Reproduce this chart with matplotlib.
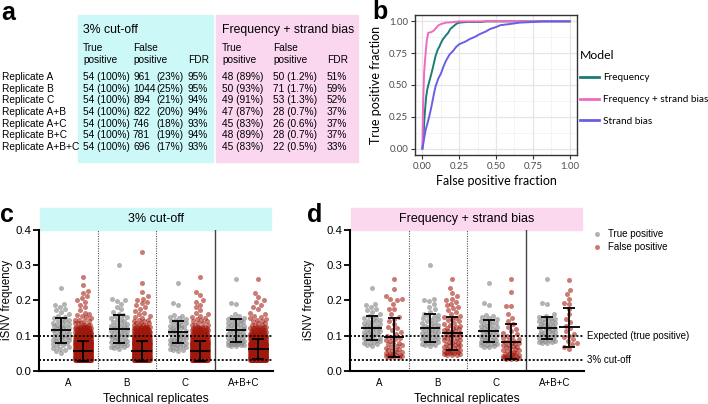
import numpy as np
import matplotlib
matplotlib.use("Agg")
import matplotlib.pyplot as plt
from matplotlib.patches import Rectangle
from matplotlib.lines import Line2D
from matplotlib.transforms import blended_transform_factory

plt.rcParams['font.family'] = ['Liberation Sans', 'DejaVu Sans']

# ---------------- panel a: table ----------------
rep_names = ['Replicate A', 'Replicate B', 'Replicate C', 'Replicate A+B',
             'Replicate A+C', 'Replicate B+C', 'Replicate A+B+C']
cut_tp = [54, 54, 54, 54, 54, 54, 54]
cut_tp_pct = [100, 100, 100, 100, 100, 100, 100]
cut_fp = [961, 1044, 894, 822, 746, 781, 696]
cut_fp_pct = [23, 25, 21, 20, 18, 19, 17]
cut_fdr = [95, 95, 94, 94, 93, 94, 93]
sb_tp = [48, 50, 49, 47, 45, 48, 45]
sb_tp_pct = [89, 93, 91, 87, 83, 89, 83]
sb_fp = [50, 71, 53, 28, 26, 28, 22]
sb_fp_pct = ['1.2', '1.7', '1.3', '0.7', '0.6', '0.7', '0.5']
sb_fdr = [51, 59, 52, 37, 37, 37, 33]

# ---------------- panel b: ROC curves ----------------
freq_fpr = [0, 0.005, 0.01, 0.012, 0.018, 0.025, 0.034, 0.045, 0.057, 0.07, 0.08, 0.09,
            0.105, 0.115, 0.126, 0.14, 0.16, 0.175, 0.19, 0.21, 0.23, 0.25, 0.30, 0.40, 0.43, 1.0]
freq_tpr = [0, 0.06, 0.14, 0.20, 0.30, 0.40, 0.47, 0.52, 0.57, 0.63, 0.68, 0.73,
            0.78, 0.80, 0.83, 0.86, 0.89, 0.91, 0.94, 0.96, 0.98, 0.99, 0.995, 0.995, 1.0, 1.0]
fsb_fpr = [0, 0.005, 0.012, 0.02, 0.03, 0.04, 0.06, 0.08, 0.095, 0.11, 0.13, 0.16, 0.2, 0.25, 1.0]
fsb_tpr = [0, 0.35, 0.60, 0.72, 0.85, 0.91, 0.915, 0.93, 0.95, 0.97, 0.98, 0.99, 0.993, 1.0, 1.0]
sb_fpr = [0, 0.008, 0.015, 0.023, 0.035, 0.046, 0.058, 0.07, 0.08, 0.09, 0.108, 0.126, 0.145,
          0.16, 0.185, 0.21, 0.23, 0.25, 0.29, 0.32, 0.36, 0.39, 0.43, 0.46, 0.5, 0.53, 0.6,
          0.66, 0.75, 0.82, 1.0]
sb_tpr = [0, 0.05, 0.10, 0.15, 0.20, 0.25, 0.31, 0.38, 0.44, 0.49, 0.55, 0.59, 0.65,
          0.69, 0.74, 0.77, 0.80, 0.82, 0.84, 0.86, 0.88, 0.90, 0.92, 0.94, 0.955, 0.97, 0.98,
          0.99, 0.995, 1.0, 1.0]
model_names = ['Frequency', 'Frequency + strand bias', 'Strand bias']
model_colors = ['#1b7d74', '#f06ac4', '#6a5ee6']

# ---------------- panels c/d: iSNV frequencies ----------------
groups = ['A', 'B', 'C', 'A+B+C']

tp_A = [0.235, 0.190, 0.188, 0.180, 0.176, 0.173, 0.168, 0.160, 0.155, 0.152,
        0.150, 0.147, 0.145, 0.142, 0.140, 0.137, 0.135, 0.133, 0.130, 0.128,
        0.126, 0.124, 0.122, 0.120, 0.118, 0.116, 0.114, 0.112, 0.110, 0.108,
        0.106, 0.104, 0.102, 0.100, 0.098, 0.096, 0.094, 0.092, 0.090, 0.088,
        0.086, 0.084, 0.082, 0.080, 0.078, 0.076, 0.073, 0.070, 0.068,
        0.065, 0.062, 0.060, 0.055, 0.050]
tp_B = [0.300, 0.205, 0.200, 0.197, 0.190, 0.182, 0.175, 0.168, 0.162, 0.158,
        0.155, 0.152, 0.150, 0.147, 0.144, 0.141, 0.138, 0.135, 0.132, 0.130,
        0.128, 0.126, 0.124, 0.122, 0.120, 0.118, 0.116, 0.114, 0.112, 0.110,
        0.108, 0.106, 0.104, 0.102, 0.100, 0.098, 0.096, 0.094, 0.092, 0.090,
        0.088, 0.086, 0.084, 0.082, 0.080, 0.078, 0.076, 0.074, 0.072, 0.070,
        0.068, 0.066, 0.064, 0.062]
tp_C = [0.248, 0.192, 0.188, 0.158, 0.155, 0.152, 0.150, 0.148, 0.145, 0.142,
        0.140, 0.137, 0.135, 0.132, 0.130, 0.128, 0.126, 0.124, 0.122, 0.120,
        0.118, 0.116, 0.114, 0.112, 0.110, 0.108, 0.106, 0.104, 0.102, 0.100,
        0.098, 0.096, 0.094, 0.092, 0.090, 0.088, 0.087, 0.086, 0.084, 0.082,
        0.080, 0.078, 0.077, 0.076, 0.074, 0.072, 0.070, 0.068, 0.066, 0.064,
        0.062, 0.060, 0.058, 0.056]
tp_ABC = [0.262, 0.193, 0.190, 0.160, 0.156, 0.153, 0.150, 0.148, 0.146, 0.144,
          0.142, 0.140, 0.138, 0.136, 0.134, 0.132, 0.130, 0.128, 0.126, 0.124,
          0.122, 0.120, 0.118, 0.116, 0.114, 0.112, 0.110, 0.108, 0.106, 0.104,
          0.102, 0.100, 0.098, 0.096, 0.094, 0.092, 0.090, 0.088, 0.086, 0.085,
          0.084, 0.083, 0.082, 0.080, 0.079, 0.078, 0.077, 0.076, 0.075, 0.074,
          0.073, 0.072, 0.071, 0.070]
tp_kept_d = [48, 50, 49, 45]   # true positives remaining after strand-bias model

# 3% cut-off false positives: dense part as value levels with counts, plus sparse tail
fp_levels = [0.030, 0.035, 0.040, 0.045, 0.050, 0.055, 0.060, 0.065, 0.070, 0.075,
             0.080, 0.085, 0.090, 0.095, 0.100, 0.105, 0.110, 0.115, 0.120, 0.125,
             0.130, 0.135, 0.140, 0.145]
fp_counts_A = [92, 95, 93, 88, 82, 74, 66, 58, 51, 45, 39, 34, 30, 26, 22, 18, 14, 11, 8, 5, 4, 3, 2, 2]
fp_counts_B = [99, 103, 101, 95, 89, 81, 73, 64, 56, 49, 43, 37, 32, 28, 23, 19, 15, 11, 8, 5, 4, 3, 2, 2]
fp_counts_C = [85, 89, 87, 82, 76, 69, 61, 54, 47, 41, 35, 30, 26, 22, 18, 14, 11, 8, 6, 4, 3, 2, 2, 1]
fp_counts_ABC = [60, 66, 68, 66, 62, 56, 50, 45, 39, 34, 30, 26, 22, 18, 15, 12, 9, 7, 5, 4, 3, 2, 2, 1]
fp_tail_A = [0.265, 0.245, 0.228, 0.222, 0.212, 0.207, 0.200, 0.195, 0.188, 0.180,
             0.172, 0.165, 0.160, 0.158, 0.155, 0.152, 0.150]
fp_tail_B = [0.337, 0.250, 0.225, 0.212, 0.205, 0.200, 0.196, 0.192, 0.186, 0.180,
             0.175, 0.170, 0.165, 0.160, 0.156, 0.153, 0.150]
fp_tail_C = [0.265, 0.225, 0.215, 0.200, 0.195, 0.188, 0.180, 0.172, 0.165, 0.160,
             0.156, 0.153, 0.150, 0.148]
fp_tail_ABC = [0.260, 0.222, 0.210, 0.200, 0.195, 0.188, 0.180, 0.175, 0.165, 0.160,
               0.156, 0.153, 0.150, 0.148]

# frequency + strand bias false positives
fpd_A = [0.262, 0.233, 0.212, 0.205, 0.203, 0.200, 0.190, 0.176, 0.176, 0.160,
         0.152, 0.148, 0.140, 0.132, 0.125, 0.120, 0.115, 0.110, 0.105, 0.100,
         0.097, 0.094, 0.090, 0.087, 0.084, 0.080, 0.078, 0.075, 0.072, 0.070,
         0.068, 0.065, 0.062, 0.060, 0.058, 0.056, 0.054, 0.052, 0.050, 0.048,
         0.047, 0.046, 0.045, 0.044, 0.043, 0.042, 0.041, 0.040, 0.039, 0.038]
fpd_B = [0.262, 0.235, 0.222, 0.212, 0.205, 0.200, 0.196, 0.190, 0.186, 0.182,
         0.178, 0.172, 0.166, 0.160, 0.156, 0.152, 0.149, 0.146, 0.143, 0.140,
         0.137, 0.134, 0.131, 0.128, 0.125, 0.122, 0.120, 0.118, 0.116, 0.114,
         0.112, 0.110, 0.108, 0.106, 0.104, 0.102, 0.100, 0.098, 0.096, 0.094,
         0.092, 0.090, 0.088, 0.086, 0.084, 0.082, 0.080, 0.078, 0.076, 0.074,
         0.072, 0.070, 0.068, 0.066, 0.064, 0.062, 0.060, 0.058, 0.056, 0.055,
         0.054, 0.053, 0.052, 0.051, 0.050, 0.049, 0.048, 0.047, 0.046, 0.045, 0.044]
fpd_C = [0.262, 0.224, 0.185, 0.183, 0.160, 0.150, 0.140, 0.132, 0.125, 0.118,
         0.112, 0.108, 0.104, 0.100, 0.097, 0.094, 0.091, 0.088, 0.085, 0.082,
         0.080, 0.078, 0.076, 0.074, 0.072, 0.070, 0.068, 0.066, 0.064, 0.062,
         0.060, 0.058, 0.056, 0.054, 0.052, 0.050, 0.048, 0.047, 0.046, 0.045,
         0.044, 0.043, 0.042, 0.041, 0.040, 0.039, 0.038, 0.037, 0.036, 0.035,
         0.034, 0.033, 0.032]
fpd_ABC = [0.257, 0.229, 0.218, 0.205, 0.193, 0.190, 0.175, 0.160, 0.148, 0.138,
           0.128, 0.120, 0.112, 0.105, 0.100, 0.095, 0.090, 0.085, 0.080, 0.075,
           0.068, 0.062]

# mean +/- SD
c_tp_mean = [0.115, 0.119, 0.110, 0.115]
c_tp_sd = [0.035, 0.039, 0.032, 0.033]
c_fp_mean = [0.056, 0.056, 0.056, 0.061]
c_fp_sd = [0.028, 0.028, 0.028, 0.028]
d_tp_mean = [0.121, 0.122, 0.113, 0.121]
d_tp_sd = [0.0335, 0.040, 0.031, 0.032]
d_fp_mean = [0.095, 0.1065, 0.0825, 0.1235]
d_fp_sd = [0.056, 0.0475, 0.0495, 0.0555]

W, H = 708, 404
fig = plt.figure(figsize=(7.08, 4.04), dpi=100)


def fx(px):
    return px / W


def fy(py):
    return 1 - py / H


# ================= panel a =================
cyan = '#cdf8f8'
pink = '#fbd6ef'
fig.patches.append(Rectangle((fx(78), fy(162)), (213 - 78) / W, (162 - 15) / H,
                             transform=fig.transFigure, color=cyan, zorder=0))
fig.patches.append(Rectangle((fx(216), fy(162)), (358 - 216) / W, (162 - 15) / H,
                             transform=fig.transFigure, color=pink, zorder=0))
fig.text(fx(1), fy(1), 'a', fontsize=18, fontweight='bold', va='top', ha='left')

ts = 7.3
fig.text(fx(83), fy(30), '3% cut-off', fontsize=8.8, va='center')
fig.text(fx(222), fy(30), 'Frequency + strand bias', fontsize=8.8, va='center')
for x0, x1, x2 in [(83, 133, 188), (222, 273, 327)]:
    fig.text(fx(x0), fy(48), 'True', fontsize=ts, va='center')
    fig.text(fx(x0), fy(60), 'positive', fontsize=ts, va='center')
    fig.text(fx(x1), fy(48), 'False', fontsize=ts, va='center')
    fig.text(fx(x1), fy(60), 'positive', fontsize=ts, va='center')
    fig.text(fx(x2), fy(60), 'FDR', fontsize=ts, va='center')

for i, name in enumerate(rep_names):
    y = fy(77 + i * 11.67)
    fig.text(fx(2), y, name, fontsize=ts, va='center')
    fig.text(fx(83), y, f'{cut_tp[i]} ({cut_tp_pct[i]}%)', fontsize=ts, va='center')
    fig.text(fx(133), y, f'{cut_fp[i]}', fontsize=ts, va='center')
    fig.text(fx(156), y, f'({cut_fp_pct[i]}%)', fontsize=ts, va='center')
    fig.text(fx(188), y, f'{cut_fdr[i]}%', fontsize=ts, va='center')
    fig.text(fx(222), y, f'{sb_tp[i]} ({sb_tp_pct[i]}%)', fontsize=ts, va='center')
    fig.text(fx(273), y, f'{sb_fp[i]} ({sb_fp_pct[i]}%)', fontsize=ts, va='center')
    fig.text(fx(327), y, f'{sb_fdr[i]}%', fontsize=ts, va='center')

# ================= panel b =================
lato = ['Lato', 'DejaVu Sans']
axb = fig.add_axes([fx(415), fy(155), 162 / W, 140 / H])
lines = []
for fpr, tpr, col, nm in zip([freq_fpr, fsb_fpr, sb_fpr], [freq_tpr, fsb_tpr, sb_tpr],
                             model_colors, model_names):
    ln, = axb.plot(fpr, tpr, color=col, lw=1.4, label=nm, zorder=3)
    lines.append(ln)
axb.set_xlim(-0.05, 1.05)
axb.set_ylim(-0.05, 1.05)
ticks = [0, 0.25, 0.5, 0.75, 1.0]
tlabels = ['0.00', '0.25', '0.50', '0.75', '1.00']
axb.set_xticks(ticks)
axb.set_xticklabels(tlabels)
axb.set_yticks(ticks)
axb.set_yticklabels(tlabels)
axb.set_xticks([0.125, 0.375, 0.625, 0.875], minor=True)
axb.set_yticks([0.125, 0.375, 0.625, 0.875], minor=True)
axb.grid(True, which='major', color='#e6e6e6', lw=0.9)
axb.grid(True, which='minor', color='#f0f0f0', lw=0.5)
axb.set_axisbelow(True)
axb.tick_params(which='major', length=3, width=0.8, color='#333333', labelsize=7,
                labelcolor='#4d4d4d', pad=2)
axb.tick_params(which='minor', length=0)
for s in axb.spines.values():
    s.set_color('#333333')
    s.set_linewidth(1.0)
axb.set_xlabel('False positive fraction', fontsize=9, labelpad=3, family=lato)
axb.set_ylabel('True positive fraction', fontsize=9, labelpad=5, family=lato)
for lab in axb.get_xticklabels() + axb.get_yticklabels():
    lab.set_family(lato)
legb = axb.legend(handles=lines, title='Model', loc='upper left',
                  bbox_to_anchor=(fx(580), fy(50)), bbox_transform=fig.transFigure,
                  frameon=False, title_fontsize=8.8, handlelength=1.9,
                  handletextpad=0.4, labelspacing=1.25, borderpad=0, borderaxespad=0,
                  alignment='left', prop={'family': lato, 'size': 7.2})
legb.get_title().set_family(lato)
for h in legb.legend_handles:
    h.set_linewidth(2.0)
fig.text(fx(372), fy(0), 'b', fontsize=18, fontweight='bold', va='top', ha='left')

# ================= panels c, d =================
gray_col = '#8a8a8a'
red_col = '#a0170b'
tp_off, fp_off = 0.37, 0.75
msize = 13


def swarm(vals, y_ppu, x_ppu, diam=5.0, half_w=8.0):
    vals = np.asarray(vals, dtype=float)
    order = np.argsort(vals, kind='stable')
    ys = vals[order] * y_ppu
    n = len(ys)
    xs = np.zeros(n)
    cands = np.arange(-half_w, half_w + 1e-9, 0.5)
    cands = cands[np.argsort(np.abs(cands), kind='stable')]
    lo = 0
    for i in range(n):
        while ys[i] - ys[lo] >= diam:
            lo += 1
        if lo == i:
            xs[i] = 0.0
            continue
        dy = ys[i] - ys[lo:i]
        dx = cands[:, None] - xs[lo:i][None, :]
        dist = np.sqrt(dx ** 2 + dy[None, :] ** 2).min(axis=1)
        ok = np.nonzero(dist >= diam - 1e-9)[0]
        xs[i] = cands[ok[0]] if ok.size else cands[np.argmax(dist)]
    out = np.empty(n)
    out[order] = xs
    return out / x_ppu


def panel(left_px, right_px, tp_sets, fp_sets, tpm, tps, fpm, fps, banner, bcol,
          letter, letter_px, ylab_px):
    ax = fig.add_axes([fx(left_px), fy(370.7), (right_px - left_px) / W, 140.7 / H])
    ax.set_xlim(0, 4)
    ax.set_ylim(0, 0.4)
    x_ppu = (right_px - left_px) / 4.0
    y_ppu = 140.7 / 0.4
    for i in range(4):
        tv = np.asarray(tp_sets[i])
        fv = np.asarray(fp_sets[i])
        ax.scatter(i + tp_off + swarm(tv, y_ppu, x_ppu), tv, s=msize, color=gray_col,
                   alpha=0.65, linewidths=0, zorder=2)
        ax.scatter(i + fp_off + swarm(fv, y_ppu, x_ppu), fv, s=msize, color=red_col,
                   alpha=0.57, linewidths=0, zorder=2)
        for xc, m, sd in [(i + tp_off, tpm[i], tps[i]), (i + fp_off, fpm[i], fps[i])]:
            ax.errorbar(xc, m, yerr=sd, fmt='none', ecolor='black', elinewidth=1.3,
                        capsize=4.6, capthick=1.3, zorder=5)
            ax.hlines(m, xc - 0.175, xc + 0.175, color='black', lw=1.3, zorder=5)
    ax.axvline(1, color='#555555', ls=(0, (1, 1.2)), lw=0.8, zorder=1)
    ax.axvline(2, color='#555555', ls=(0, (1, 1.2)), lw=0.8, zorder=1)
    ax.axvline(3, color='#444444', ls='-', lw=1.0, zorder=1)
    ax.axhline(0.1, color='black', ls=(0, (1.1, 1.1)), lw=1.3, zorder=3)
    ax.axhline(0.03, color='black', ls=(0, (1.1, 1.1)), lw=1.3, zorder=3)
    for s in ['top', 'right']:
        ax.spines[s].set_visible(False)
    for s in ['left', 'bottom']:
        ax.spines[s].set_linewidth(1.5)
    ax.set_yticks([0, 0.1, 0.2, 0.3, 0.4])
    ax.set_yticklabels(['0.0', '0.1', '0.2', '0.3', '0.4'])
    ax.tick_params(axis='y', length=4, width=1.3, labelsize=8.2, pad=1.5)
    ax.set_xticks([0.5, 1.5, 2.5, 3.5])
    ax.set_xticklabels(groups)
    ax.tick_params(axis='x', length=0, labelsize=7, pad=5)
    ax.set_ylabel('iSNV frequency', fontsize=8.3)
    # right edge of the rotated label sits at ylab_px
    ax.yaxis.set_label_coords((ylab_px - left_px) / (right_px - left_px), 0.5)
    ax.set_xlabel('Technical replicates', fontsize=8.7, labelpad=4)
    ax.add_patch(Rectangle((0.005, 1.0), 0.985, 22 / 140.7, transform=ax.transAxes,
                           color=bcol, clip_on=False, zorder=0))
    ax.text(0.5, 1.0 + 11 / 140.7, banner, transform=ax.transAxes, ha='center',
            va='center', fontsize=9)
    fig.text(fx(letter_px), fy(203), letter, fontsize=18, fontweight='bold',
             va='top', ha='left')
    return ax


fp_c_sets = []
for counts, tail in [(fp_counts_A, fp_tail_A), (fp_counts_B, fp_tail_B),
                     (fp_counts_C, fp_tail_C), (fp_counts_ABC, fp_tail_ABC)]:
    fp_c_sets.append(np.concatenate([np.repeat(fp_levels, counts), tail]))

tp_sets = [tp_A, tp_B, tp_C, tp_ABC]
tp_d_sets = [sorted(v)[len(v) - k:] for v, k in zip(tp_sets, tp_kept_d)]

axc = panel(39.3, 273, tp_sets, fp_c_sets, c_tp_mean, c_tp_sd, c_fp_mean, c_fp_sd,
            '3% cut-off', '#cdf8f8', 'c', 0, 13)
axd = panel(350, 584, tp_d_sets, [fpd_A, fpd_B, fpd_C, fpd_ABC], d_tp_mean, d_tp_sd,
            d_fp_mean, d_fp_sd, 'Frequency + strand bias', '#fbd8ee', 'd', 307, 315)

tr = blended_transform_factory(axd.transAxes, axd.transData)
axd.text(1.012, 0.1, 'Expected (true positive)', transform=tr, fontsize=7, va='center',
         ha='left')
axd.text(1.012, 0.03, '3% cut-off', transform=tr, fontsize=7, va='center', ha='left')

h_tp = Line2D([], [], marker='o', ls='', color=gray_col, alpha=0.65, markersize=3.6,
              markeredgewidth=0)
h_fp = Line2D([], [], marker='o', ls='', color=red_col, alpha=0.57, markersize=3.6,
              markeredgewidth=0)
axd.legend([h_tp, h_fp], ['True positive', 'False positive'], loc='upper left',
           bbox_to_anchor=(fx(593), fy(229)), bbox_transform=fig.transFigure,
           frameon=False, fontsize=7, handlelength=0.8, handletextpad=0.75,
           labelspacing=0.35, borderpad=0, borderaxespad=0)

fig.savefig('out.png', dpi=100)
